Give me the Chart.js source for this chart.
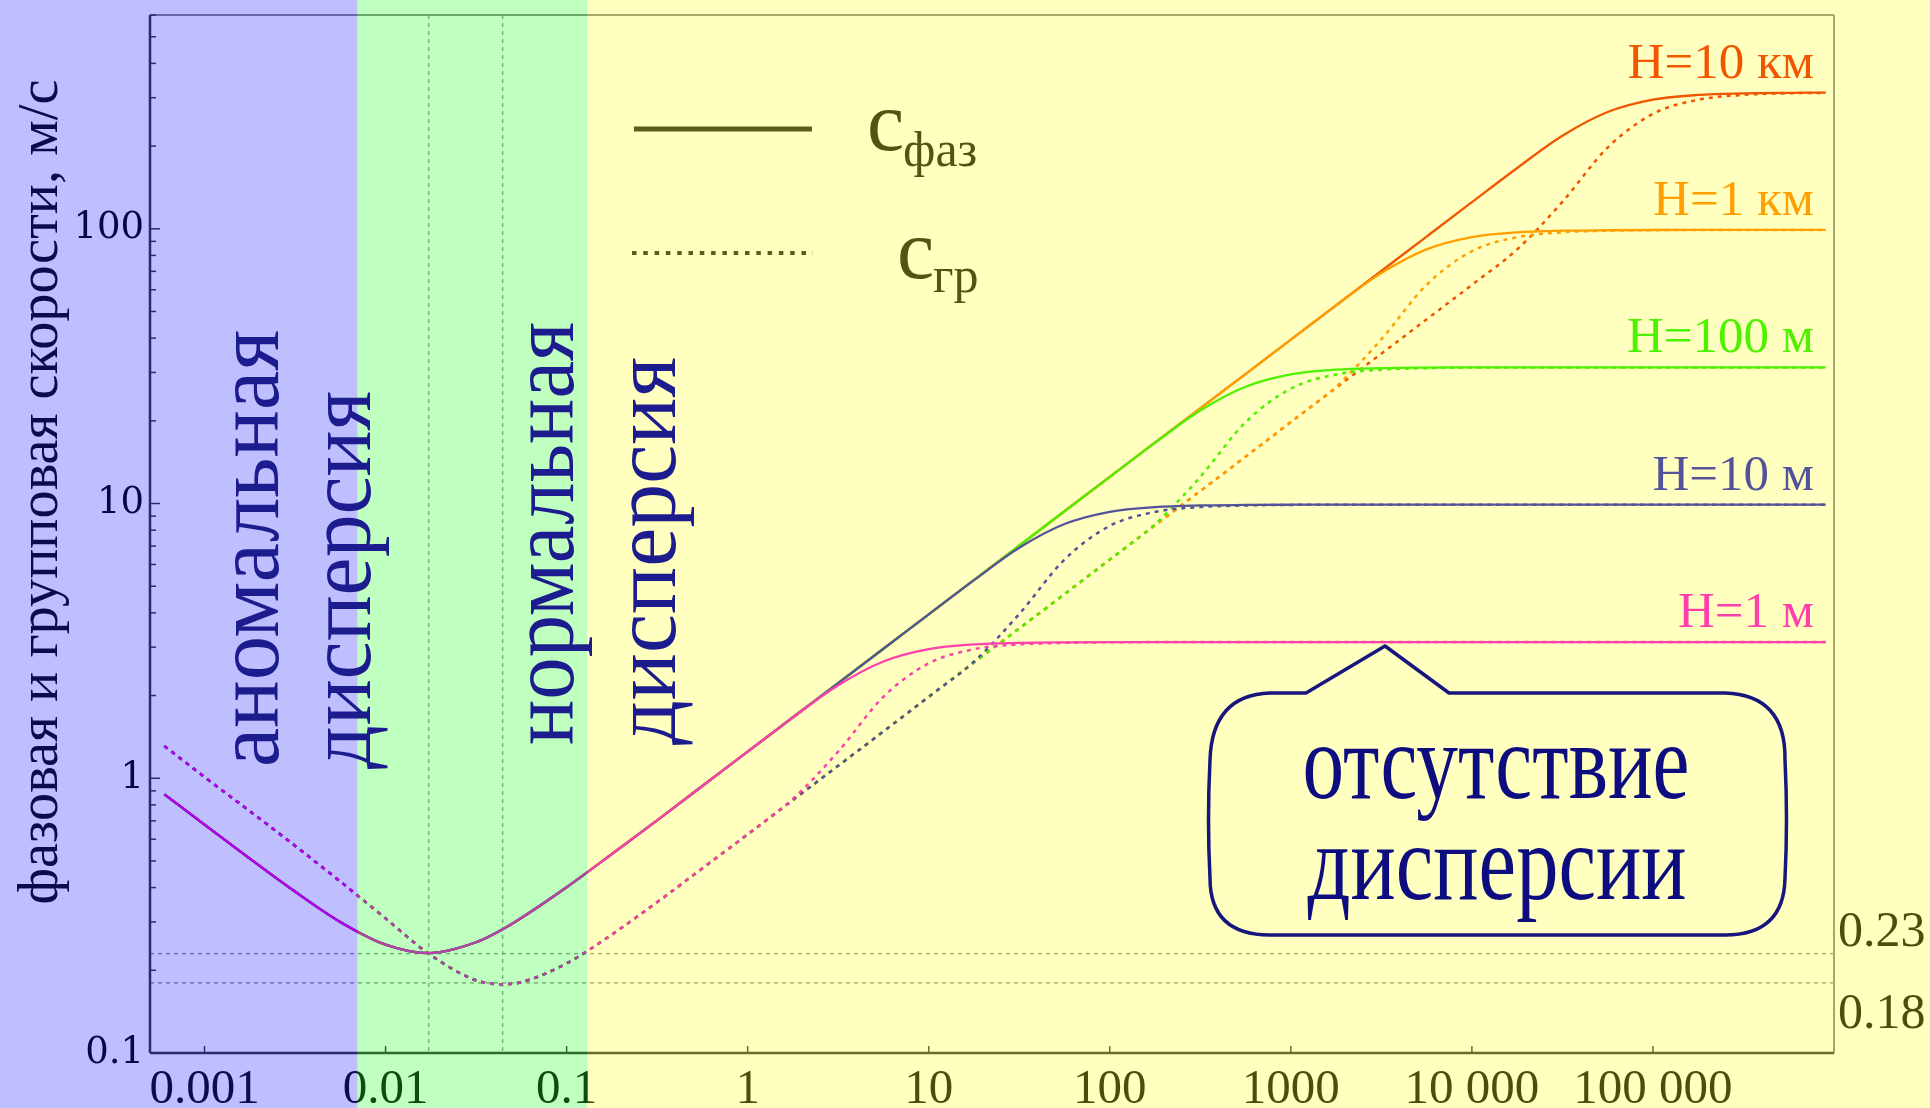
<!DOCTYPE html>
<html>
<head>
<meta charset="utf-8">
<title>Фазовая и групповая скорости волн на воде</title>
<script src="https://cdn.jsdelivr.net/npm/chart.js@4.4.1/dist/chart.umd.min.js"></script>
<style>
  html, body { margin: 0; padding: 0; background: #fff; }
  canvas { display: block; }
</style>
</head>
<body>
<canvas id="waveChart" width="1930" height="1108"></canvas>
<script>
// wavelength, m (x axis)
const wavelengths = [0.0006, 0.001, 0.00178, 0.00316, 0.00562, 0.01, 0.0173, 0.0316, 0.0443, 0.0562,
  0.1, 0.178, 0.316, 0.562, 1, 1.78, 3.16, 5.62, 10, 17.8, 31.6, 56.2, 100, 178, 316, 562,
  1000, 1780, 3160, 5620, 10000, 17800, 31600, 56200, 100000, 178000, 316000, 562000, 900000];

// phase velocity, m/s, for each depth
const phase1m = [0.874, 0.678, 0.51, 0.387, 0.3, 0.248, 0.231, 0.253, 0.282, 0.31,
  0.401, 0.53, 0.703, 0.937, 1.25, 1.665, 2.18, 2.66, 2.95, 3.07, 3.11, 3.125, 3.13, 3.13, 3.13, 3.13,
  3.13, 3.13, 3.13, 3.13, 3.13, 3.13, 3.13, 3.13, 3.13, 3.13, 3.13, 3.13, 3.13];
const phase10m = [0.874, 0.678, 0.51, 0.387, 0.3, 0.248, 0.231, 0.253, 0.282, 0.31,
  0.401, 0.53, 0.703, 0.937, 1.25, 1.667, 2.22, 2.96, 3.95, 5.26, 6.9, 8.42, 9.33, 9.71, 9.84, 9.88,
  9.9, 9.9, 9.9, 9.9, 9.9, 9.9, 9.9, 9.9, 9.9, 9.9, 9.9, 9.9, 9.9];
const phase100m = [0.874, 0.678, 0.51, 0.387, 0.3, 0.248, 0.231, 0.253, 0.282, 0.31,
  0.401, 0.53, 0.703, 0.937, 1.25, 1.667, 2.22, 2.96, 3.95, 5.27, 7.02, 9.37, 12.5, 16.65, 21.8, 26.6,
  29.5, 30.7, 31.1, 31.25, 31.3, 31.3, 31.3, 31.3, 31.3, 31.3, 31.3, 31.3, 31.3];
const phase1km = [0.874, 0.678, 0.51, 0.387, 0.3, 0.248, 0.231, 0.253, 0.282, 0.31,
  0.401, 0.53, 0.703, 0.937, 1.25, 1.667, 2.22, 2.96, 3.95, 5.27, 7.02, 9.37, 12.5, 16.7, 22.2, 29.6,
  39.5, 52.6, 69.0, 84.2, 93.3, 97.1, 98.4, 98.8, 99.0, 99.05, 99.05, 99.05, 99.05];
const phase10km = [0.874, 0.678, 0.51, 0.387, 0.3, 0.248, 0.231, 0.253, 0.282, 0.31,
  0.401, 0.53, 0.703, 0.937, 1.25, 1.667, 2.22, 2.96, 3.95, 5.27, 7.02, 9.37, 12.5, 16.7, 22.2, 29.6,
  39.5, 52.7, 70.2, 93.7, 125, 166.5, 218, 266, 295, 307, 311, 312.5, 313];

// group velocity, m/s, for each depth
const group1m = [1.31, 1.01, 0.759, 0.568, 0.421, 0.309, 0.23, 0.184, 0.178, 0.181,
  0.212, 0.27, 0.354, 0.47, 0.625, 0.842, 1.25, 1.98, 2.62, 2.95, 3.07, 3.11, 3.126, 3.13, 3.13, 3.13,
  3.13, 3.13, 3.13, 3.13, 3.13, 3.13, 3.13, 3.13, 3.13, 3.13, 3.13, 3.13, 3.13];
const group10m = [1.31, 1.01, 0.759, 0.568, 0.421, 0.309, 0.23, 0.184, 0.178, 0.181,
  0.212, 0.27, 0.354, 0.47, 0.625, 0.834, 1.11, 1.48, 1.98, 2.66, 3.96, 6.25, 8.29, 9.32, 9.71, 9.84,
  9.885, 9.9, 9.9, 9.9, 9.9, 9.9, 9.9, 9.9, 9.9, 9.9, 9.9, 9.9, 9.9];
const group100m = [1.31, 1.01, 0.759, 0.568, 0.421, 0.309, 0.23, 0.184, 0.178, 0.181,
  0.212, 0.27, 0.354, 0.47, 0.625, 0.834, 1.11, 1.48, 1.98, 2.64, 3.51, 4.68, 6.25, 8.42, 12.5, 19.75,
  26.2, 29.5, 30.7, 31.1, 31.26, 31.3, 31.3, 31.3, 31.3, 31.3, 31.3, 31.3, 31.3];
const group1km = [1.31, 1.01, 0.759, 0.568, 0.421, 0.309, 0.23, 0.184, 0.178, 0.181,
  0.212, 0.27, 0.354, 0.47, 0.625, 0.834, 1.11, 1.48, 1.98, 2.64, 3.51, 4.68, 6.25, 8.34, 11.1, 14.8,
  19.8, 26.6, 39.6, 62.5, 82.9, 93.2, 97.1, 98.4, 98.85, 99.05, 99.05, 99.05, 99.05];
const group10km = [1.31, 1.01, 0.759, 0.568, 0.421, 0.309, 0.23, 0.184, 0.178, 0.181,
  0.212, 0.27, 0.354, 0.47, 0.625, 0.834, 1.11, 1.48, 1.98, 2.64, 3.51, 4.68, 6.25, 8.34, 11.1, 14.8,
  19.8, 26.4, 35.1, 46.8, 62.5, 84.2, 125.3, 197.5, 262, 295, 307, 311.3, 312.5];

const depthLabels = ["H=1 м", "H=10 м", "H=100 м", "H=1 км", "H=10 км"];
const depthColors = ["#ff00e6", "#1a1ad0", "#10ee00", "#ff8000", "#ee1c00"];

const xTickValues = [0.001, 0.01, 0.1, 1, 10, 100, 1000, 10000, 100000];
const xTickLabels = ["0.001", "0.01", "0.1", "1", "10", "100", "1000", "10 000", "100 000"];
const yTickValues = [0.1, 1, 10, 100];
const yTickLabels = ["0.1", "1", "10", "100"];

// minima of phase / group speed
const markWavelengths = [0.0173, 0.0443];
const markSpeeds = [0.23, 0.18];
const markLabels = ["0.23", "0.18"];

// anomalous | normal | no dispersion zones
const bandEdges = [0.007, 0.13];

const SERIF = '"Liberation Serif", "Times New Roman", serif';
const phaseSeries = [phase1m, phase10m, phase100m, phase1km, phase10km];
const groupSeries = [group1m, group10m, group100m, group1km, group10km];

function points(arr) {
  return wavelengths.map((x, i) => ({ x: x, y: arr[i] }));
}

const datasets = [];
phaseSeries.forEach((s, i) => {
  datasets.push({
    label: "cфаз " + depthLabels[i],
    data: points(s),
    borderColor: depthColors[i],
    borderWidth: 2.3,
    pointRadius: 0,
    cubicInterpolationMode: "monotone",
    fill: false,
  });
});
groupSeries.forEach((s, i) => {
  datasets.push({
    label: "cгр " + depthLabels[i],
    data: points(s),
    borderColor: depthColors[i],
    borderWidth: 2.5,
    borderDash: [4, 5],
    pointRadius: 0,
    cubicInterpolationMode: "monotone",
    fill: false,
  });
});

// text squeezed/stretched to a given length, optionally rotated
function fitText(ctx, text, x, y, size, width, angle, align, color) {
  ctx.save();
  ctx.translate(x, y);
  ctx.rotate(angle);
  ctx.font = size + "px " + SERIF;
  const w = ctx.measureText(text).width;
  ctx.scale(width / w, 1);
  ctx.textAlign = align;
  ctx.textBaseline = "alphabetic";
  ctx.fillStyle = color;
  ctx.fillText(text, 0, 0);
  ctx.restore();
}

function line(ctx, x1, y1, x2, y2) {
  ctx.beginPath();
  ctx.moveTo(x1, y1);
  ctx.lineTo(x2, y2);
  ctx.stroke();
}

const decor = {
  id: "decor",
  beforeDraw(chart) {
    const ctx = chart.ctx;
    ctx.save();
    ctx.fillStyle = "#fff";
    ctx.fillRect(0, 0, chart.width, chart.height);
    ctx.restore();
  },
  beforeDatasetsDraw(chart) {
    const { ctx, chartArea: a, scales: { x, y } } = chart;
    ctx.save();
    ctx.strokeStyle = "#9a9a9a";
    ctx.lineWidth = 1.5;
    ctx.setLineDash([4, 4]);
    markWavelengths.forEach(v => {
      const px = x.getPixelForValue(v);
      line(ctx, px, a.top, px, a.bottom);
    });
    markSpeeds.forEach(v => {
      const py = y.getPixelForValue(v);
      line(ctx, a.left, py, a.right, py);
    });
    ctx.restore();
  },
  afterDraw(chart) {
    const { ctx, chartArea: a, scales: { x, y } } = chart;
    const W = chart.width, H = chart.height;
    ctx.save();

    // frame
    ctx.strokeStyle = "#8a8a8a";
    ctx.lineWidth = 2;
    line(ctx, a.left, a.top, a.right, a.top);
    line(ctx, a.right, a.top, a.right, a.bottom);
    ctx.strokeStyle = "#3a3a3a";
    ctx.lineWidth = 2.5;
    line(ctx, a.left, a.top, a.left, a.bottom);
    line(ctx, a.left, a.bottom, a.right, a.bottom);

    // ticks
    ctx.lineWidth = 1.5;
    yTickValues.forEach(v => {
      const py = y.getPixelForValue(v);
      line(ctx, a.left, py, a.left + 10, py);
      for (let k = 2; k <= 9; k++) {
        const m = v * k;
        if (m > y.max) break;
        const pm = y.getPixelForValue(m);
        line(ctx, a.left, pm, a.left + 6, pm);
      }
    });
    xTickValues.forEach(v => {
      const px = x.getPixelForValue(v);
      line(ctx, px, a.bottom, px, a.bottom - 7);
    });

    // y tick labels
    ctx.fillStyle = "#0a0a0a";
    ctx.font = '37px "DejaVu Serif", serif';
    ctx.textAlign = "right";
    ctx.textBaseline = "middle";
    yTickValues.forEach((v, i) => {
      ctx.fillText(yTickLabels[i], a.left - 6, y.getPixelForValue(v));
    });

    // legend
    ctx.strokeStyle = "#262626";
    ctx.lineWidth = 5;
    line(ctx, 634, 129, 812, 129);
    ctx.lineWidth = 4;
    ctx.setLineDash([4.5, 6.8]);
    line(ctx, 632, 253, 813, 253);
    ctx.setLineDash([]);
    ctx.fillStyle = "#1a1a1a";
    ctx.textAlign = "left";
    ctx.textBaseline = "alphabetic";
    ctx.font = "84px " + SERIF;
    ctx.fillText("c", 867, 150);
    ctx.fillText("c", 897, 278);
    ctx.font = "50px " + SERIF;
    ctx.fillText("фаз", 903, 166);
    ctx.fillText("гр", 933, 292);

    // depth labels above the plateaus
    ctx.font = "51px " + SERIF;
    ctx.textAlign = "right";
    phaseSeries.forEach((s, i) => {
      const py = y.getPixelForValue(s[s.length - 1]) - 15;
      ctx.fillStyle = depthColors[i];
      ctx.fillText(depthLabels[i], a.right - 20, py);
    });

    // minimum speed labels on the right
    ctx.font = "50px " + SERIF;
    ctx.textAlign = "left";
    ctx.fillStyle = "#111";
    const labelShift = [-8, 45];
    markSpeeds.forEach((v, i) => {
      ctx.fillText(markLabels[i], a.right + 4, y.getPixelForValue(v) + labelShift[i]);
    });

    // y axis title
    fitText(ctx, "фазовая и групповая скорости, м/с", 57, 492, 58, 825, -Math.PI / 2, "center", "#111");

    // translucent zone overlay
    const b0 = x.getPixelForValue(bandEdges[0]);
    const b1 = x.getPixelForValue(bandEdges[1]);
    ctx.fillStyle = "rgba(0, 0, 255, 0.25)";
    ctx.fillRect(0, 0, b0, H);
    ctx.fillStyle = "rgba(0, 255, 0, 0.25)";
    ctx.fillRect(b0, 0, b1 - b0, H);
    ctx.fillStyle = "rgba(255, 255, 0, 0.25)";
    ctx.fillRect(b1, 0, W - b1, H);

    // zone captions
    const navy = "#1c1c8e";
    fitText(ctx, "аномальная", 278, 767, 92, 437, -Math.PI / 2, "left", navy);
    fitText(ctx, "дисперсия", 370, 769, 92, 378, -Math.PI / 2, "left", navy);
    fitText(ctx, "нормальная", 573, 745, 92, 423, -Math.PI / 2, "left", navy);
    fitText(ctx, "дисперсия", 675, 745, 92, 388, -Math.PI / 2, "left", navy);

    // callout
    ctx.strokeStyle = "#16167e";
    ctx.lineWidth = 3.5;
    ctx.lineJoin = "round";
    ctx.beginPath();
    ctx.moveTo(1306, 693);
    ctx.lineTo(1385, 646);
    ctx.lineTo(1449, 693);
    ctx.lineTo(1725, 693);
    ctx.quadraticCurveTo(1786, 695, 1785, 760);
    ctx.quadraticCurveTo(1788, 820, 1785, 878);
    ctx.quadraticCurveTo(1784, 935, 1725, 935);
    ctx.lineTo(1270, 935);
    ctx.quadraticCurveTo(1210, 935, 1210, 878);
    ctx.quadraticCurveTo(1207, 820, 1210, 760);
    ctx.quadraticCurveTo(1212, 695, 1270, 693);
    ctx.closePath();
    ctx.stroke();
    fitText(ctx, "отсутствие", 1496, 798, 108, 387, 0, "center", "#0d0d80");
    fitText(ctx, "дисперсии", 1497, 899, 108, 379, 0, "center", "#0d0d80");

    ctx.restore();
  },
};

new Chart(document.getElementById("waveChart"), {
  type: "line",
  data: { datasets: datasets },
  options: {
    responsive: false,
    animation: false,
    devicePixelRatio: 1,
    layout: { padding: { left: 0, right: 96, top: 15, bottom: 0 } },
    plugins: {
      legend: { display: false },
      tooltip: { enabled: false },
    },
    scales: {
      x: {
        type: "logarithmic",
        min: 0.0005,
        max: 1000000,
        afterBuildTicks: s => {
          s.ticks = xTickValues.map(v => ({ value: v }));
        },
        afterFit: s => {
          s.height = 55;
          s.paddingLeft = 0;
          s.paddingRight = 0;
        },
        grid: { display: false, drawTicks: false },
        border: { display: false },
        ticks: {
          autoSkip: false,
          maxRotation: 0,
          padding: 8,
          color: "#111",
          font: { family: SERIF, size: 49 },
          callback: (v, i) => xTickLabels[i],
        },
      },
      y: {
        type: "logarithmic",
        min: 0.1,
        max: 600,
        afterBuildTicks: s => {
          s.ticks = yTickValues.map(v => ({ value: v }));
        },
        afterFit: s => {
          s.width = 150;
          s.paddingTop = 0;
          s.paddingBottom = 0;
        },
        grid: { display: false, drawTicks: false },
        border: { display: false },
        ticks: { display: false },
      },
    },
  },
  plugins: [decor],
});
</script>
</body>
</html>
